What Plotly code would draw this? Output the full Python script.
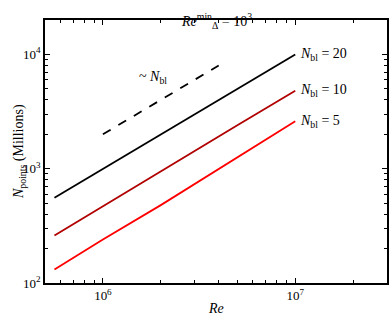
import math
import plotly.graph_objects as go

# Re values along each curve
re = [5.6e5, 1e6, 2e6, 5e6, 1e7]
# N_points (millions) for N_bl = 20, 10, 5
n_bl20 = [558, 1000, 2000, 5000, 10000]
n_bl10 = [260, 470, 950, 2400, 4800]
n_bl5 = [131, 240, 480, 1250, 2600]

# scaling guide ~ N_bl
guide_re = [1e6, 4e6]
guide_n = [2000, 8000]

labels = ["<i>N</i><sub>bl</sub> = 20", "<i>N</i><sub>bl</sub> = 10", "<i>N</i><sub>bl</sub> = 5"]
colors = ["#000000", "#b00000", "#ff0000"]

x_major = [1e6, 1e7]
x_minor = [6e5, 7e5, 8e5, 9e5, 2e6, 3e6, 4e6, 5e6, 6e6, 7e6, 8e6, 9e6, 2e7, 3e7]
y_major = [1e2, 1e3, 1e4]
y_minor = [2e2, 3e2, 4e2, 5e2, 6e2, 7e2, 8e2, 9e2,
           2e3, 3e3, 4e3, 5e3, 6e3, 7e3, 8e3, 9e3, 2e4]

FONT = "Liberation Serif"
xr = [5.699, 7.477]
yr = [2.0, 4.301]

fig = go.Figure()

for ys, col in zip([n_bl20, n_bl10, n_bl5], colors):
    fig.add_trace(go.Scatter(x=re, y=ys, mode="lines",
                             line=dict(color=col, width=1.8), showlegend=False))

fig.add_trace(go.Scatter(x=guide_re, y=guide_n, mode="lines",
                         line=dict(color="black", width=1.8, dash="dash"), showlegend=False))

# invisible trace so the minor-tick overlay axes get drawn
fig.add_trace(go.Scatter(x=[re[0]], y=[n_bl20[0]], xaxis="x2", yaxis="y2", mode="markers",
                         marker=dict(opacity=0), showlegend=False, hoverinfo="skip"))

for ys, lab in zip([n_bl20, n_bl10, n_bl5], labels):
    fig.add_annotation(x=math.log10(re[-1]), y=math.log10(ys[-1]), xref="x", yref="y",
                       text=lab, showarrow=False, xanchor="left", xshift=3,
                       font=dict(size=14, color="black", family=FONT))

fig.add_annotation(x=6.26, y=3.80, xref="x", yref="y", text="~ <i>N</i><sub>bl</sub>",
                   showarrow=False, font=dict(size=14, color="black", family=FONT))

# title and axis titles
fig.add_annotation(x=0.5, y=1, xref="paper", yref="paper", yshift=11,
                   text="<i>Re</i><sup>min</sup><sub>Δ</sub> = 10<sup>3</sup>",
                   showarrow=False, font=dict(size=14, color="black", family=FONT))
fig.add_annotation(x=0.5, y=0, xref="paper", yref="paper", yshift=-35, text="<i>Re</i>",
                   showarrow=False, font=dict(size=14, color="black", family=FONT))
fig.add_annotation(x=0, y=0.5, xref="paper", yref="paper", xshift=-36, textangle=-90,
                   text="<i>N</i><sub>points</sub> (Millions)", showarrow=False,
                   font=dict(size=14, color="black", family=FONT))

tickfont = dict(size=13, color="black", family=FONT)
common = dict(type="log", showline=True, linecolor="black", linewidth=1.5, mirror="ticks",
              ticks="inside", tickcolor="black", tickwidth=1, showgrid=False,
              zeroline=False, automargin=False)

fig.update_layout(
    xaxis=dict(range=xr, tickvals=x_major, ticktext=["10<sup>6</sup>", "10<sup>7</sup>"],
               ticklen=5, tickfont=tickfont, **common),
    yaxis=dict(range=yr, tickvals=y_major,
               ticktext=["10<sup>2</sup>", "10<sup>3</sup>", "10<sup>4</sup>"],
               ticklen=5, tickfont=tickfont, **common),
    xaxis2=dict(range=xr, overlaying="x", anchor="y2", tickvals=x_minor, ticklen=3,
                showticklabels=False, **common),
    yaxis2=dict(range=yr, overlaying="y", anchor="x2", tickvals=y_minor, ticklen=3,
                showticklabels=False, **common),
    width=390, height=324,
    margin=dict(l=45, r=3, t=20, b=41),
    plot_bgcolor="white", paper_bgcolor="white",
)

# drop the browser's default 8px body margin so the figure sits at the window corner
fig.write_html("out.html", config={"displayModeBar": False},
               post_script="document.body.style.margin='0';")
